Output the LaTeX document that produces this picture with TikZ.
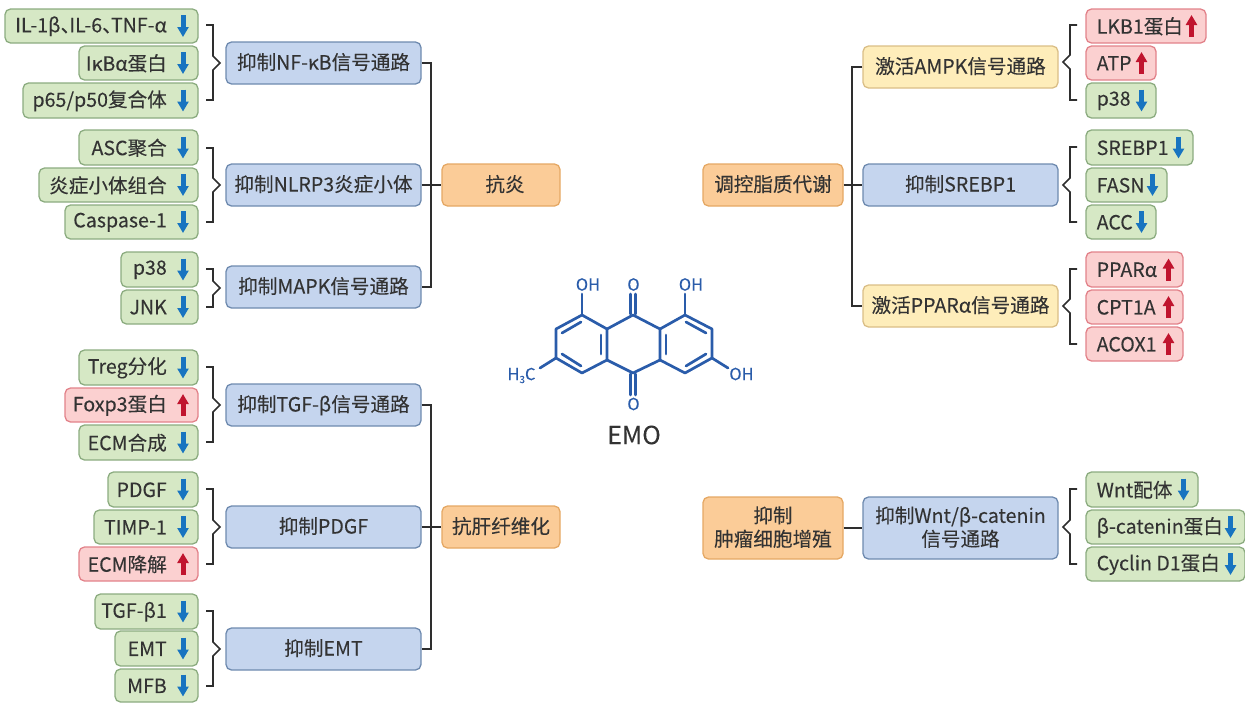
\documentclass[tikz,border=0pt]{standalone}
\usepackage{fontspec}
\setmainfont[FakeBold=0.12]{Noto Sans CJK SC}
\usetikzlibrary{arrows.meta}
\definecolor{txt}{HTML}{333333}
\definecolor{lin}{HTML}{2E2E2E}
\definecolor{mol}{HTML}{2A5CAA}
\definecolor{adn}{HTML}{1874C0}
\definecolor{aup}{HTML}{C0142E}
\newcommand{\dun}{\makebox[0.45em][l]{、}}
\tikzset{
 base/.style={draw,line width=1.3pt,rounded corners=5.5pt,inner sep=0pt,text=txt,align=center,font=\fontsize{19.6}{23}\selectfont},
 green/.style={base,fill={rgb,255:red,214;green,232;blue,197},draw={rgb,255:red,140;green,172;blue,128}},
 red/.style={base,fill={rgb,255:red,251;green,208;blue,208},draw={rgb,255:red,226;green,130;blue,138}},
 blue/.style={base,fill={rgb,255:red,197;green,213;blue,238},draw={rgb,255:red,110;green,138;blue,175}},
 orange/.style={base,fill={rgb,255:red,251;green,204;blue,152},draw={rgb,255:red,229;green,168;blue,100}},
 yellow/.style={base,fill={rgb,255:red,254;green,237;blue,186},draw={rgb,255:red,218;green,190;blue,134}},
 leaftext/.style={inner sep=0pt,text=txt,font=\fontsize{19.6}{23}\selectfont},
 down/.style={adn,line width=5pt,-{Triangle[width=11pt,length=10pt]}},
 up/.style={aup,line width=5pt,-{Triangle[width=11pt,length=10pt]}},
 conn/.style={lin,line width=2pt},
 brace/.style={lin,line width=1.7pt,line join=miter},
 bond/.style={mol,line width=2.7pt,line cap=round,line join=round},
 atom/.style={mol,inner sep=0pt,font=\fontsize{16.5}{18}\selectfont},
}
\newcommand{\bx}[7]{% name style x1 x2 y1 y2 text
 \node[#2,minimum width={#4-#3},minimum height={#6-#5}] (#1) at ({(#3+#4)/2},{(#5+#6)/2}) {\raisebox{-6.9pt}[0pt][0pt]{\begin{tabular}{@{}c@{}}#7\end{tabular}}};}
% left leaf: name style x1 y1 y2 text arrowstyle
\newcommand{\lleaf}[7]{%
 \bx{#1}{#2}{#3}{198}{#4}{#5}{}
 \node[leaftext,anchor=east] (#1t) at (167,{(#4+#5)/2+0.3}) {#6};
 \ifx#7d\draw[down] (183,{(#4+#5)/2-11}) -- (183,{(#4+#5)/2+11});\else\draw[up] (183,{(#4+#5)/2+11}) -- (183,{(#4+#5)/2-11});\fi}
% right leaf: name style x2 y1 y2 text arrowstyle
\newcommand{\rleaf}[7]{%
 \bx{#1}{#2}{1086}{#3}{#4}{#5}{}
 \node[leaftext,anchor=west] (#1t) at (1096.5,{(#4+#5)/2+0.3}) {#6};
 \ifx#7d\draw[down] ({#3-14.5},{(#4+#5)/2-11}) -- ({#3-14.5},{(#4+#5)/2+11});\else\draw[up] ({#3-14.5},{(#4+#5)/2+11}) -- ({#3-14.5},{(#4+#5)/2-11});\fi}
\newcommand{\bl}[3]{\draw[brace] (206,#1) -- (213,#1) -- (213,{#2-7}) -- (220,#2) -- (213,{#2+7}) -- (213,#3) -- (206,#3);}
\newcommand{\br}[3]{\draw[brace] (1077,#1) -- (1070,#1) -- (1070,{#2-7}) -- (1063,#2) -- (1070,{#2+7}) -- (1070,#3) -- (1077,#3);}
\begin{document}
\begin{tikzpicture}[x=1pt,y=-1pt]
\useasboundingbox (0,0) rectangle (1245,702);
% left leaves
\lleaf{a1}{green}{5}{9}{43}{IL-1β\dun IL-6\dun TNF-α}{d}
\lleaf{a2}{green}{79}{46}{80}{IκBα蛋白}{d}
\lleaf{a3}{green}{23}{83}{118}{p65/p50复合体}{d}
\lleaf{a4}{green}{79}{130}{165}{ASC聚合}{d}
\lleaf{a5}{green}{39}{168}{202}{炎症小体组合}{d}
\lleaf{a6}{green}{65}{205}{239}{Caspase-1}{d}
\lleaf{a7}{green}{121}{252}{287}{p38}{d}
\lleaf{a8}{green}{121}{290}{324}{JNK}{d}
\lleaf{b1}{green}{79}{350}{385}{Treg分化}{d}
\lleaf{b2}{red}{65}{388}{422}{Foxp3蛋白}{u}
\lleaf{b3}{green}{79}{425}{460}{ECM合成}{d}
\lleaf{b4}{green}{108}{472}{507}{PDGF}{d}
\lleaf{b5}{green}{94}{510}{544}{TIMP-1}{d}
\lleaf{b6}{red}{79}{547}{581}{ECM降解}{u}
\lleaf{b7}{green}{95}{594}{629}{TGF-β1}{d}
\lleaf{b8}{green}{115}{631}{666}{EMT}{d}
\lleaf{b9}{green}{115}{669}{702}{MFB}{d}
% left mids
\bx{m1}{blue}{226}{421}{42}{84}{抑制NF-κB信号通路}
\bx{m2}{blue}{226}{421}{164}{206}{抑制NLRP3炎症小体}
\bx{m3}{blue}{226}{421}{266}{308}{抑制MAPK信号通路}
\bx{m4}{blue}{226}{421}{384}{426}{抑制TGF-β信号通路}
\bx{m5}{blue}{226}{421}{506}{548}{抑制PDGF}
\bx{m6}{blue}{226}{421}{628}{670}{抑制EMT}
\bx{o1}{orange}{442}{560}{164}{206}{\hspace{8pt}抗炎}
\bx{o2}{orange}{442}{560}{506}{548}{抗肝纤维化}
% right
\bx{o3}{orange}{703}{843}{164}{206}{调控脂质代谢}
\bx{o4}{orange}{703}{843}{497}{559}{抑制\\肿瘤细胞增殖}
\bx{n1}{yellow}{863}{1058}{46}{88}{激活AMPK信号通路}
\bx{n2}{blue}{863}{1058}{164}{206}{抑制SREBP1}
\bx{n3}{yellow}{863}{1058}{285}{327}{激活PPARα信号通路}
\bx{n4}{blue}{863}{1058}{497}{559}{抑制Wnt/β-catenin\\信号通路}
\rleaf{c1}{red}{1206}{9}{43}{LKB1蛋白}{u}
\rleaf{c2}{red}{1156}{46}{80}{ATP}{u}
\rleaf{c3}{green}{1156}{83}{118}{p38}{d}
\rleaf{c4}{green}{1193}{130}{165}{SREBP1}{d}
\rleaf{c5}{green}{1167}{168}{202}{FASN}{d}
\rleaf{c6}{green}{1156}{205}{239}{ACC}{d}
\rleaf{c7}{red}{1183}{252}{287}{PPARα}{u}
\rleaf{c8}{red}{1183}{290}{324}{CPT1A}{u}
\rleaf{c9}{red}{1183}{327}{361}{ACOX1}{u}
\rleaf{d1}{green}{1198}{472}{507}{Wnt配体}{d}
\rleaf{d2}{green}{1245}{510}{544}{β-catenin蛋白}{d}
\rleaf{d3}{green}{1245}{547}{581}{Cyclin D1蛋白}{d}
% braces
\bl{25}{63}{100}\bl{148}{185}{222}\bl{269}{288}{307}
\bl{367}{405}{442}\bl{489}{527}{564}\bl{611}{649}{686}
\br{25}{62}{100}\br{147}{185}{222}\br{269}{306}{344}\br{489}{527}{564}
% connectors
\coordinate (busa) at (431,185);
\coordinate (busb) at (431,527);
\coordinate (busc) at (852,185);
\draw[conn] (m1.east) -| (busa) |- (m3.east);
\draw[conn] (m2.east) -- (o1.west);
\draw[conn] (m4.east) -| (busb) |- (m6.east);
\draw[conn] (m5.east) -- (o2.west);
\draw[conn] (n1.west) -| (busc) |- (n3.west);
\draw[conn] (o3.east) -- (n2.west);
\draw[conn] (o4.east) -- (n4.west);
% molecule
\draw[bond] (582,315)--(607,329)--(607,360)--(582,373)--(556,358)--(556,329)--cycle;
\draw[bond] (607,329)--(633,315)--(660,329)--(660,360)--(633,373)--(607,360);
\draw[bond] (660,329)--(685,315)--(712,329)--(712,358)--(685,373)--(660,360);
\draw[bond] (581,322)--(562,333);
\draw[bond] (562,354)--(581,366);
\draw[bond] (601,335)--(601,354);
\draw[bond] (666,335)--(666,354);
\draw[bond] (686,322)--(706,333);
\draw[bond] (706,354)--(686,366);
\draw[bond] (582,315)--(582,294);
\draw[bond] (685,315)--(685,294);
\draw[bond] (630.5,314)--(630.5,294);
\draw[bond] (635.5,314)--(635.5,294);
\draw[bond] (630.5,374)--(630.5,395);
\draw[bond] (635.5,374)--(635.5,395);
\draw[bond] (556,358)--(540,368);
\draw[bond] (712,358)--(728,368);
\node[atom] (oh1) at (588,284.5) {OH};
\node[atom] (o5) at (633.5,284.5) {O};
\node[atom] (oh2) at (691,284.5) {OH};
\node[atom] (oh3) at (741.5,374) {OH};
\node[atom] (o6) at (633.5,404) {O};
\node[atom] (me) at (521.5,375.5) {H\raisebox{-3pt}{\fontsize{10}{10}\selectfont 3}C};
\node[inner sep=0pt,text=txt,font=\fontsize{25}{28}\selectfont] (emo) at (634,435) {EMO};
\end{tikzpicture}
\end{document}
